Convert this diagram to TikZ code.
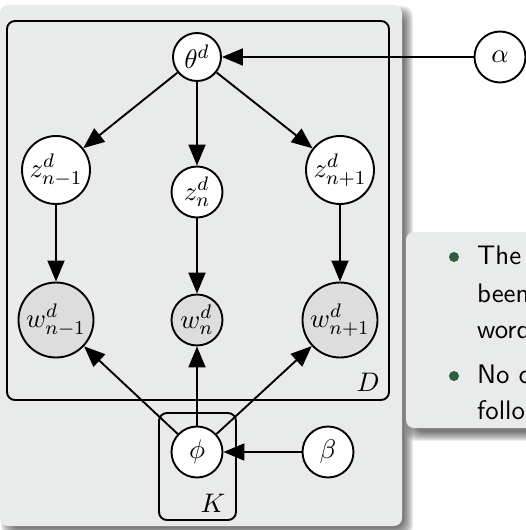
\documentclass[tikz,border=0pt]{standalone}
\usepackage{fix-cm}
\usetikzlibrary{arrows.meta}
\definecolor{panelgrey}{RGB}{233,235,234}
\definecolor{obsgrey}{RGB}{221,221,221}
\definecolor{bulletgreen}{RGB}{47,94,60}
% 11pt text blown up to slide scale
\newcommand\mtxt[1]{\scalebox{2.45}{\fontsize{10.95}{13}\selectfont$#1$}}
\newcommand\stxt[1]{\scalebox{2.45}{\fontsize{10.95}{13}\selectfont\sffamily #1}}
\begin{document}
\begin{tikzpicture}[x=1pt,y=-1pt,
  var/.style={circle,draw,line width=1.9pt,fill=white,inner sep=0pt},
  obs/.style={var,fill=obsgrey},
  plate/.style={draw,line width=1.9pt,rounded corners=8pt},
  edge/.style={line width=1.9pt,-{Triangle[length=21pt,width=17pt]}},
  itemtext/.style={anchor=base west,inner sep=0pt},
  softshadow/.style={fill=black,opacity=0.07,rounded corners=10pt}]
\useasboundingbox (0,0) rectangle (526,530);
\clip (0,0) rectangle (526,530);

% panel behind the graphical model, with a soft shadow
\foreach \k in {0,...,9}
  \fill[softshadow] (1+\k,6+\k) rectangle (413-\k,537-\k);
\fill[panelgrey,rounded corners=8pt] (0,5) rectangle (402,526);

% bullet box on the right, with a soft shadow
\foreach \k in {0,...,9}
  \fill[softshadow] (406+\k,233+\k) rectangle (580-\k,441-\k);
\fill[panelgrey,rounded corners=8pt] (406,232) rectangle (570,428);
\fill[bulletgreen] (454,257) circle (5);
\fill[bulletgreen] (454,376) circle (5);
\node[itemtext] (l1) at (477,264) {\stxt{The}};
\node[itemtext] (l2) at (477,302) {\stxt{been}};
\node[itemtext] (l3) at (477,338) {\stxt{word}};
\node[itemtext] (l4) at (477,383) {\stxt{No c}};
\node[itemtext] (l5) at (477,419) {\stxt{follo}};

% plates
\draw[plate] (7,21) rectangle (389,400);
\node (dlab) at (368,382) {\mtxt{D}};
\draw[plate] (159,413) rectangle (236,520);
\node (klab) at (213,503) {\mtxt{K}};

% variables
\node[var,minimum size=48pt] (theta) at (197,57) {\mtxt{\theta^d}};
\node[var,minimum size=68pt] (zp) at (56,170) {\mtxt{z^d_{n-1}}};
\node[var,minimum size=51pt] (z) at (197,192) {\mtxt{z^d_n}};
\node[var,minimum size=68pt] (zn) at (340,170) {\mtxt{z^d_{n+1}}};
\node[obs,minimum size=75pt] (wp) at (56,320) {\mtxt{w^d_{n-1}}};
\node[obs,minimum size=51pt] (w) at (197,320) {\mtxt{w^d_n}};
\node[obs,minimum size=75pt] (wn) at (340,320) {\mtxt{w^d_{n+1}}};
\node[var,minimum size=51pt] (phi) at (197,452) {\mtxt{\phi}};
\node[var,minimum size=51pt] (beta) at (328,452) {\mtxt{\beta}};
\node[var,minimum size=51pt] (alpha) at (500,57) {\mtxt{\alpha}};

% dependencies
\draw[edge] (alpha) -- (theta);
\draw[edge] (theta) -- (zp);
\draw[edge] (theta) -- (z);
\draw[edge] (theta) -- (zn);
\draw[edge] (zp) -- (wp);
\draw[edge] (z) -- (w);
\draw[edge] (zn) -- (wn);
\draw[edge] (phi) -- (wp);
\draw[edge] (phi) -- (w);
\draw[edge] (phi) -- (wn);
\draw[edge] (beta) -- (phi);
\end{tikzpicture}
\end{document}
